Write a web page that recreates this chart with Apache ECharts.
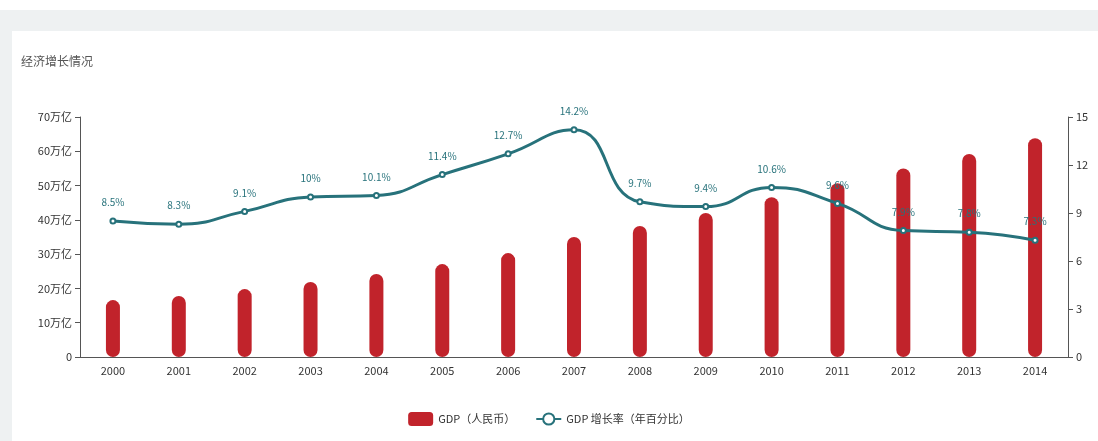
<!DOCTYPE html><html><head><meta charset="utf-8"><script src="https://cdn.jsdelivr.net/npm/echarts@6/dist/echarts.min.js"></script>
<style>html,body{margin:0;padding:0;background:#eef1f2}#c{width:1098px;height:441px}</style></head><body><div id="c"></div><script>
const years=['2000','2001','2002','2003','2004','2005','2006','2007','2008','2009','2010','2011','2012','2013','2014'];
const gdp=[16.6,17.8,19.8,21.9,24.2,27.1,30.3,35,38.2,42,46.6,50.7,55,59.2,63.8];
const growth=[8.5,8.3,9.1,10,10.1,11.4,12.7,14.2,9.7,9.4,10.6,9.6,7.9,7.8,7.3];
const ch=echarts.init(document.getElementById('c'));
const f='"Noto Sans CJK SC", sans-serif';
ch.setOption({
 textStyle:{fontFamily:f},
 graphic:[{type:'rect',z:-10,shape:{x:0,y:0,width:1098,height:10},style:{fill:'#fff'}},
          {type:'rect',z:-10,shape:{x:12,y:31,width:1086,height:410},style:{fill:'#fff'}}],
 title:{text:'经济增长情况',left:16,top:50,textStyle:{fontSize:12,fontWeight:'normal',color:'#555'}},
 legend:{bottom:10,left:'center',itemGap:20,textStyle:{fontSize:11,color:'#333'},data:['GDP（人民币）','GDP 增长率（年百分比）']},
 grid:{left:80,right:30,top:117,bottom:84},
 xAxis:{type:'category',data:years,axisTick:{alignWithLabel:true},axisLine:{lineStyle:{color:'#555'}},axisLabel:{color:'#333',fontSize:11}},
 yAxis:[{type:'value',min:0,max:70,interval:10,axisLine:{show:true,lineStyle:{color:'#555'}},axisTick:{show:true},splitLine:{show:false},axisLabel:{color:'#333',fontSize:11,formatter:v=>v===0?'0':v+'万亿'}},
        {type:'value',min:0,max:15,interval:3,axisLine:{show:true,lineStyle:{color:'#555'}},axisTick:{show:true},splitLine:{show:false},axisLabel:{color:'#333',fontSize:11}}],
 series:[{name:'GDP（人民币）',type:'bar',data:gdp,barWidth:14,itemStyle:{color:'#c1232b',borderRadius:7}},
  {name:'GDP 增长率（年百分比）',type:'line',yAxisIndex:1,data:growth,smooth:true,symbol:'emptyCircle',symbolSize:5,
   lineStyle:{width:3,color:'#27727b'},itemStyle:{color:'#27727b'},
   label:{show:true,position:'top',distance:10,color:'#27727b',fontSize:10,formatter:p=>p.value+'%'}}]
});
</script></body></html>
